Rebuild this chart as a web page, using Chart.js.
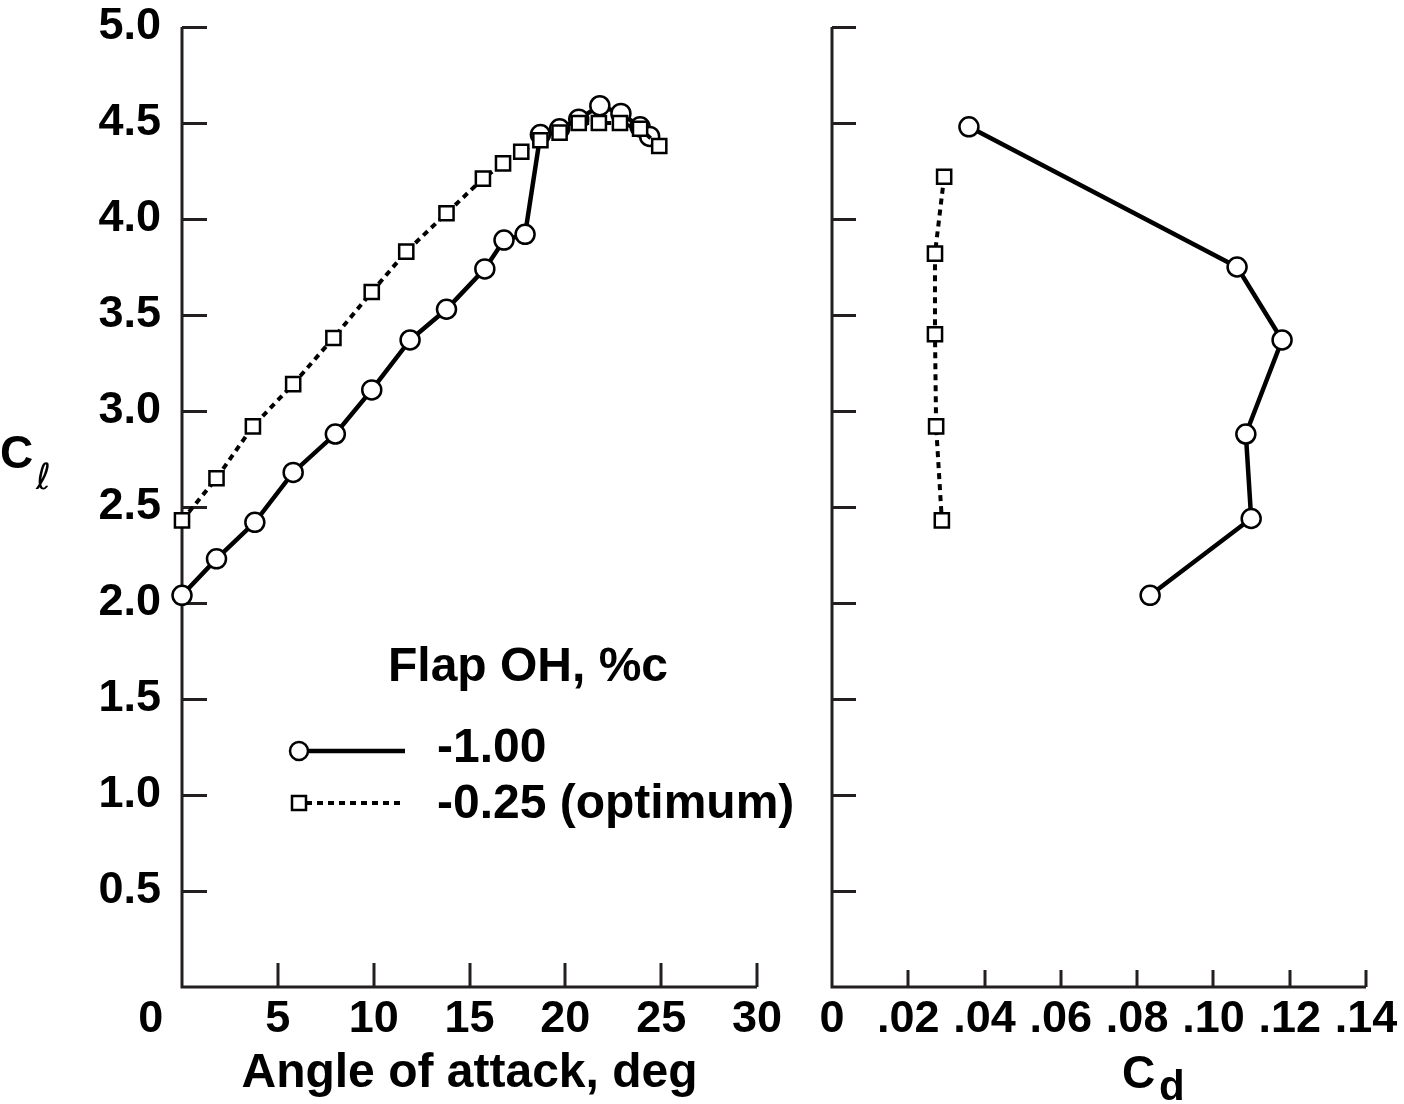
<!DOCTYPE html>
<html>
<head>
<meta charset="utf-8">
<title>Flap overhang - lift and drag</title>
<script src="https://cdn.jsdelivr.net/npm/chart.js@4.4.1/dist/chart.umd.min.js"></script>
<style>
  html, body { margin: 0; padding: 0; background: #fff; }
  #page { position: relative; width: 1404px; height: 1104px; }
  #liftChart { position: absolute; left: 0; top: 0; }
  #dragChart { position: absolute; left: 800px; top: 0; }
</style>
</head>
<body>
<div id="page">
  <canvas id="liftChart" width="800" height="1104"></canvas>
  <canvas id="dragChart" width="604" height="1104"></canvas>
</div>
<script>
// ---------- Data ----------
// Flap OH = -1.00 %c, lift curve
var alphaOh100 = [0, 1.8, 3.8, 5.8, 8.0, 9.9, 11.9, 13.8, 15.8, 16.8, 17.9, 18.7, 19.7, 20.7, 21.8, 22.9, 23.9, 24.4];
var clOh100 = [2.04, 2.23, 2.42, 2.68, 2.88, 3.11, 3.37, 3.53, 3.74, 3.89, 3.92, 4.44, 4.47, 4.52, 4.59, 4.55, 4.48, 4.43];

// Flap OH = -0.25 %c (optimum), lift curve
var alphaOh025 = [0, 1.8, 3.7, 5.8, 7.9, 9.9, 11.7, 13.8, 15.7, 16.75, 17.7, 18.7, 19.7, 20.7, 21.75, 22.85, 23.9, 24.9];
var clOh025 = [2.43, 2.65, 2.92, 3.14, 3.38, 3.62, 3.83, 4.03, 4.21, 4.29, 4.35, 4.41, 4.45, 4.50, 4.50, 4.50, 4.47, 4.38];

// Drag polars
var cdOh100 = [0.0359, 0.1062, 0.1180, 0.1085, 0.1099, 0.0834];
var clDragOh100 = [4.48, 3.75, 3.37, 2.88, 2.44, 2.04];
var cdOh025 = [0.0294, 0.0270, 0.0270, 0.0273, 0.0288];
var clDragOh025 = [4.22, 3.82, 3.40, 2.92, 2.43];

// Axes
var alphaTicks = [0, 5, 10, 15, 20, 25, 30];
var alphaTickLabels = ['0     ', '5', '10', '15', '20', '25', '30'];
var cdTicks = [0, 0.02, 0.04, 0.06, 0.08, 0.10, 0.12, 0.14];
var cdTickLabels = ['0', '.02', '.04', '.06', '.08', '.10', '.12', '.14'];
var clTicks = [0.5, 1.0, 1.5, 2.0, 2.5, 3.0, 3.5, 4.0, 4.5, 5.0];
var clTickLabels = ['0.5', '1.0', '1.5', '2.0', '2.5', '3.0', '3.5', '4.0', '4.5', '5.0'];

var seriesNames = ['-1.00', '-0.25 (optimum)'];
var legendTitle = 'Flap OH, %c';

// ---------- Shared styling ----------
var FONT = '"Liberation Sans", Arial, Helvetica, sans-serif';
var tickFont = { family: FONT, size: 45, weight: 'bold' };
var titleFont = { family: FONT, size: 48, weight: 'bold' };
var INK = '#000';
var AXIS_INK = '#231f20';

function toPoints(xs, ys) {
    return xs.map(function(x, i) { return { x: x, y: ys[i] }; });
}

function circleSeries(data) {
    return {
        label: seriesNames[0],
        data: data,
        borderColor: INK,
        borderWidth: 4.5,
        pointStyle: 'circle',
        pointRadius: 9.5,
        pointBorderWidth: 2.5,
        pointBackgroundColor: '#fff',
        pointBorderColor: INK,
        tension: 0,
        clip: false,
        order: 1
    };
}

function squareSeries(data) {
    return {
        label: seriesNames[1],
        data: data,
        borderColor: INK,
        borderWidth: 4,
        borderDash: [6, 5],
        pointStyle: 'rect',
        pointRadius: 10,
        pointBorderWidth: 2.5,
        pointBackgroundColor: '#fff',
        pointBorderColor: INK,
        tension: 0,
        clip: false,
        order: 0
    };
}

// Axis lines with inward tick marks, drawn from the chart's own scales.
var inwardAxes = {
    id: 'inwardAxes',
    beforeDatasetsDraw: function(chart, args, opts) {
        var ctx = chart.ctx;
        var area = chart.chartArea;
        var xs = chart.scales.x;
        var ys = chart.scales.y;
        ctx.save();
        ctx.strokeStyle = AXIS_INK;
        ctx.lineWidth = 3;
        ctx.lineCap = 'butt';
        ctx.beginPath();
        ctx.moveTo(area.left, area.top);
        ctx.lineTo(area.left, area.bottom);
        ctx.lineTo(area.right, area.bottom);
        opts.yTicks.forEach(function(v) {
            var py = Math.round(ys.getPixelForValue(v)) + 0.5;
            ctx.moveTo(area.left, py);
            ctx.lineTo(area.left + opts.yLen, py);
        });
        opts.xTicks.forEach(function(v) {
            var px = Math.round(xs.getPixelForValue(v));
            ctx.moveTo(px, area.bottom);
            ctx.lineTo(px, area.bottom - opts.xLen);
        });
        ctx.stroke();
        ctx.restore();
    }
};

// Label with a subscript, e.g. C_l and C_d
var subLabel = {
    id: 'subLabel',
    afterDraw: function(chart, args, opts) {
        var ctx = chart.ctx;
        ctx.save();
        ctx.fillStyle = INK;
        ctx.textBaseline = 'alphabetic';
        ctx.textAlign = 'left';
        ctx.font = 'bold 46px ' + FONT;
        ctx.fillText(opts.main, opts.x, opts.y);
        ctx.font = opts.subFont;
        ctx.fillText(opts.sub, opts.subX, opts.subY);
        ctx.restore();
    }
};

// Legend block inside the lift plot
var flapLegend = {
    id: 'flapLegend',
    afterDraw: function(chart) {
        var ctx = chart.ctx;
        var sets = chart.data.datasets;
        ctx.save();
        ctx.fillStyle = INK;
        ctx.textBaseline = 'middle';
        ctx.textAlign = 'left';
        ctx.font = 'bold 48px ' + FONT;
        ctx.fillText(legendTitle, 388, 668);
        ctx.fillText(sets[0].label, 437, 749);
        ctx.fillText(sets[1].label, 437, 805);

        // solid line + circle
        ctx.strokeStyle = INK;
        ctx.lineWidth = 4.5;
        ctx.setLineDash([]);
        ctx.beginPath();
        ctx.moveTo(300, 751);
        ctx.lineTo(405, 751);
        ctx.stroke();
        ctx.lineWidth = 2.5;
        ctx.fillStyle = '#fff';
        ctx.beginPath();
        ctx.arc(299, 751, 9, 0, Math.PI * 2);
        ctx.fill();
        ctx.stroke();

        // dashed line + square
        ctx.lineWidth = 4;
        ctx.setLineDash([6, 5]);
        ctx.beginPath();
        ctx.moveTo(306, 803);
        ctx.lineTo(405, 803);
        ctx.stroke();
        ctx.setLineDash([]);
        ctx.lineWidth = 2.5;
        ctx.beginPath();
        ctx.rect(292, 796, 14, 14);
        ctx.fill();
        ctx.stroke();
        ctx.restore();
    }
};

function fixedTicks(values) {
    return function(scale) {
        scale.ticks = values.map(function(v) { return { value: v }; });
    };
}

// Fixed axis box size; label overhang is already covered by layout padding.
function fixedWidth(w) {
    return function(s) {
        s.width = w;
        s.paddingTop = 0;
        s.paddingBottom = 0;
    };
}

function fixedHeight(h) {
    return function(s) {
        s.height = h;
        s.paddingLeft = 0;
        s.paddingRight = 0;
    };
}

// ---------- Lift curve: C_l vs angle of attack ----------
new Chart(document.getElementById('liftChart'), {
    type: 'line',
    data: {
        datasets: [
            circleSeries(toPoints(alphaOh100, clOh100)),
            squareSeries(toPoints(alphaOh025, clOh025))
        ]
    },
    options: {
        responsive: false,
        animation: false,
        events: [],
        layout: { padding: { top: 27, right: 43, left: 0, bottom: 0 } },
        plugins: {
            legend: { display: false },
            tooltip: { enabled: false },
            inwardAxes: { xTicks: alphaTicks, yTicks: clTicks, xLen: 24, yLen: 25 },
            subLabel: { main: 'C', x: 0, y: 468, sub: '\u2113', subFont: 'italic 36px "DejaVu Sans", sans-serif', subX: 36, subY: 489 }
        },
        scales: {
            x: {
                type: 'linear',
                position: 'bottom',
                min: 0,
                max: 30,
                afterBuildTicks: fixedTicks(alphaTicks),
                afterFit: fixedHeight(117),
                grid: { display: false, drawTicks: false },
                border: { display: false },
                ticks: {
                    font: tickFont,
                    color: INK,
                    padding: 6,
                    maxRotation: 0,
                    autoSkip: false,
                    callback: function(v, i) { return alphaTickLabels[i]; }
                },
                title: {
                    display: true,
                    text: 'Angle of attack, deg',
                    font: titleFont,
                    color: INK,
                    padding: { top: 0, bottom: 1 }
                }
            },
            y: {
                type: 'linear',
                min: 0,
                max: 5,
                afterBuildTicks: fixedTicks(clTicks),
                afterFit: fixedWidth(182),
                grid: { display: false, drawTicks: false },
                border: { display: false },
                ticks: {
                    font: tickFont,
                    color: INK,
                    padding: 21,
                    autoSkip: false,
                    callback: function(v, i) { return clTickLabels[i]; }
                }
            }
        }
    },
    plugins: [inwardAxes, subLabel, flapLegend]
});

// ---------- Drag polar: C_l vs C_d ----------
new Chart(document.getElementById('dragChart'), {
    type: 'line',
    data: {
        datasets: [
            circleSeries(toPoints(cdOh100, clDragOh100)),
            squareSeries(toPoints(cdOh025, clDragOh025))
        ]
    },
    options: {
        responsive: false,
        animation: false,
        events: [],
        layout: { padding: { top: 27, right: 38, left: 0, bottom: 0 } },
        plugins: {
            legend: { display: false },
            tooltip: { enabled: false },
            inwardAxes: { xTicks: cdTicks, yTicks: clTicks, xLen: 17, yLen: 24 },
            subLabel: { main: 'C', x: 322, y: 1088, sub: 'd', subFont: 'bold 42px ' + FONT, subX: 359, subY: 1100 }
        },
        scales: {
            x: {
                type: 'linear',
                position: 'bottom',
                min: 0,
                max: 0.14,
                afterBuildTicks: fixedTicks(cdTicks),
                afterFit: fixedHeight(117),
                grid: { display: false, drawTicks: false },
                border: { display: false },
                ticks: {
                    font: tickFont,
                    color: INK,
                    padding: 6,
                    maxRotation: 0,
                    autoSkip: false,
                    callback: function(v, i) { return cdTickLabels[i]; }
                }
            },
            y: {
                type: 'linear',
                min: 0,
                max: 5,
                afterBuildTicks: fixedTicks(clTicks),
                afterFit: fixedWidth(32),
                grid: { display: false, drawTicks: false },
                border: { display: false },
                ticks: { display: false }
            }
        }
    },
    plugins: [inwardAxes, subLabel]
});
</script>
</body>
</html>
